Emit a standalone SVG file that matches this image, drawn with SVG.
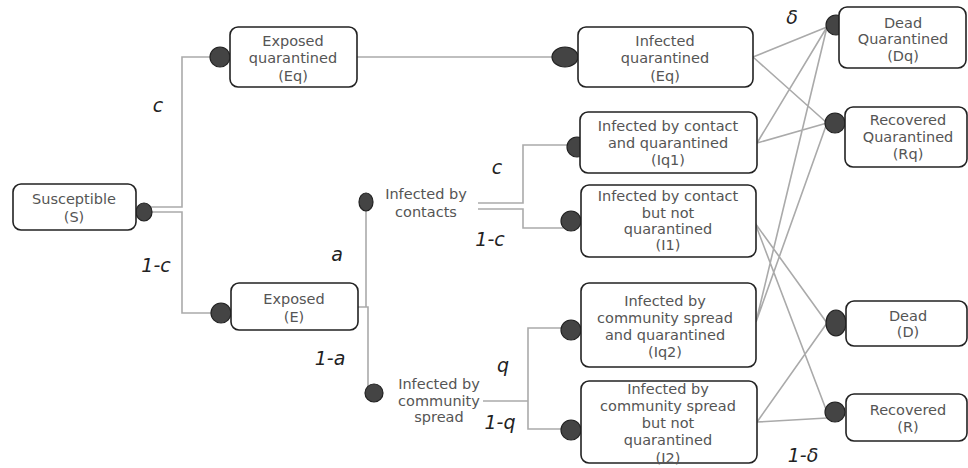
<svg xmlns="http://www.w3.org/2000/svg" width="968" height="468" viewBox="0 0 968 468">
<style>
.box{fill:#fff;stroke:#222;stroke-width:1.6}
.t{font-family:"DejaVu Sans",sans-serif;font-size:14.5px;fill:#555;text-anchor:middle}
.lbl{font-family:"DejaVu Sans",sans-serif;font-size:19px;font-style:italic;fill:#222;text-anchor:middle}
.ln{fill:none;stroke:#aaa;stroke-width:1.6}
.dot{fill:#444;stroke:#222;stroke-width:1.2}
</style>
<rect width="968" height="468" fill="#fff"/>
<g id="connectors">
<path class="ln" d="M150 207 H182 V57 H212"/>
<path class="ln" d="M150 212 H182 V313 H213"/>
<path class="ln" d="M357 57 H555"/>
<path class="ln" d="M366 210 V307"/>
<path class="ln" d="M358 307 H368 V386"/>
<path class="ln" d="M478 203 H523 V145 H567"/>
<path class="ln" d="M478 209 H523 V228 H563"/>
<path class="ln" d="M483 401 H528 V328 H563 M528 401 V429 H563"/>
<path class="ln" d="M753 57 L827 27 M753 57 L827 123 M757 143 L827 27 M757 143 L827 123 M756 322 L827 27 M756 322 L827 123 M755 223 L827 323 M755 223 L827 412 M757 422 L827 323 M757 422 L827 418"/>
<ellipse class="dot" cx="144" cy="212" rx="8" ry="9"/>
<circle class="dot" cx="220" cy="57" r="10"/>
<circle class="dot" cx="221" cy="313" r="10"/>
<ellipse class="dot" cx="565" cy="57" rx="13" ry="10"/>
<ellipse class="dot" cx="366" cy="202" rx="7" ry="9"/>
<circle class="dot" cx="374" cy="393" r="9"/>
<circle class="dot" cx="577" cy="147" r="10"/>
<circle class="dot" cx="571" cy="221" r="10"/>
<circle class="dot" cx="571" cy="330" r="10"/>
<circle class="dot" cx="571" cy="430" r="10"/>
<circle class="dot" cx="836" cy="25" r="10"/>
<circle class="dot" cx="835" cy="123" r="10"/>
<ellipse class="dot" cx="836" cy="323" rx="10" ry="13"/>
<circle class="dot" cx="835" cy="412" r="10"/>
</g>
<g id="labels">
<text class="lbl" x="158" y="112">c</text>
<text class="lbl" x="156" y="272">1-c</text>
<text class="lbl" x="337" y="261">a</text>
<text class="lbl" x="330" y="365">1-a</text>
<text class="lbl" x="497" y="174">c</text>
<text class="lbl" x="490" y="246">1-c</text>
<text class="lbl" x="503" y="372">q</text>
<text class="lbl" x="500" y="429">1-q</text>
<text class="lbl" x="792" y="24">δ</text>
<text class="lbl" x="803" y="462">1-δ</text>
</g>
<g id="susceptible">
<rect class="box" x="13" y="184" width="123" height="46" rx="8"/>
<text class="t" x="74" y="204">Susceptible</text>
<text class="t" x="74" y="222">(S)</text>
</g>
<g id="exposed-quarantined">
<rect class="box" x="230" y="27" width="127" height="60" rx="8"/>
<text class="t" x="293" y="46">Exposed</text>
<text class="t" x="293" y="63">quarantined</text>
<text class="t" x="293" y="81">(Eq)</text>
</g>
<g id="exposed">
<rect class="box" x="231" y="283" width="127" height="47" rx="8"/>
<text class="t" x="294" y="304">Exposed</text>
<text class="t" x="294" y="322">(E)</text>
</g>
<g id="infected-by-contacts">
<text class="t" x="426" y="199">Infected by</text>
<text class="t" x="426" y="217">contacts</text>
</g>
<g id="infected-by-community">
<text class="t" x="439" y="389">Infected by</text>
<text class="t" x="439" y="406">community</text>
<text class="t" x="439" y="422">spread</text>
</g>
<g id="infected-quarantined">
<rect class="box" x="578" y="27" width="175" height="60" rx="8"/>
<text class="t" x="665" y="46">Infected</text>
<text class="t" x="665" y="63">quarantined</text>
<text class="t" x="665" y="81">(Eq)</text>
</g>
<g id="iq1">
<rect class="box" x="580" y="112" width="177" height="61" rx="8"/>
<text class="t" x="668" y="131">Infected by contact</text>
<text class="t" x="668" y="148">and quarantined</text>
<text class="t" x="668" y="165">(Iq1)</text>
</g>
<g id="i1">
<rect class="box" x="581" y="185" width="175" height="72" rx="8"/>
<text class="t" x="668" y="201">Infected by contact</text>
<text class="t" x="668" y="218">but not</text>
<text class="t" x="668" y="234">quarantined</text>
<text class="t" x="668" y="250">(I1)</text>
</g>
<g id="iq2">
<rect class="box" x="581" y="283" width="175" height="84" rx="8"/>
<text class="t" x="665" y="306">Infected by</text>
<text class="t" x="665" y="323">community spread</text>
<text class="t" x="665" y="340">and  quarantined</text>
<text class="t" x="665" y="357">(Iq2)</text>
</g>
<g id="i2">
<rect class="box" x="581" y="381" width="176" height="82" rx="8"/>
<text class="t" x="668" y="394">Infected by</text>
<text class="t" x="668" y="411">community spread</text>
<text class="t" x="668" y="428">but not</text>
<text class="t" x="668" y="445">quarantined</text>
<text class="t" x="668" y="463">(I2)</text>
</g>
<g id="dead-quarantined">
<rect class="box" x="839" y="7" width="127" height="61" rx="8"/>
<text class="t" x="903" y="28">Dead</text>
<text class="t" x="903" y="44">Quarantined</text>
<text class="t" x="903" y="61">(Dq)</text>
</g>
<g id="recovered-quarantined">
<rect class="box" x="845" y="107" width="122" height="60" rx="8"/>
<text class="t" x="908" y="125">Recovered</text>
<text class="t" x="908" y="142">Quarantined</text>
<text class="t" x="908" y="159">(Rq)</text>
</g>
<g id="dead">
<rect class="box" x="846" y="301" width="121" height="45" rx="8"/>
<text class="t" x="908" y="321">Dead</text>
<text class="t" x="908" y="337">(D)</text>
</g>
<g id="recovered">
<rect class="box" x="846" y="394" width="121" height="47" rx="8"/>
<text class="t" x="908" y="415">Recovered</text>
<text class="t" x="908" y="432">(R)</text>
</g>
</svg>
